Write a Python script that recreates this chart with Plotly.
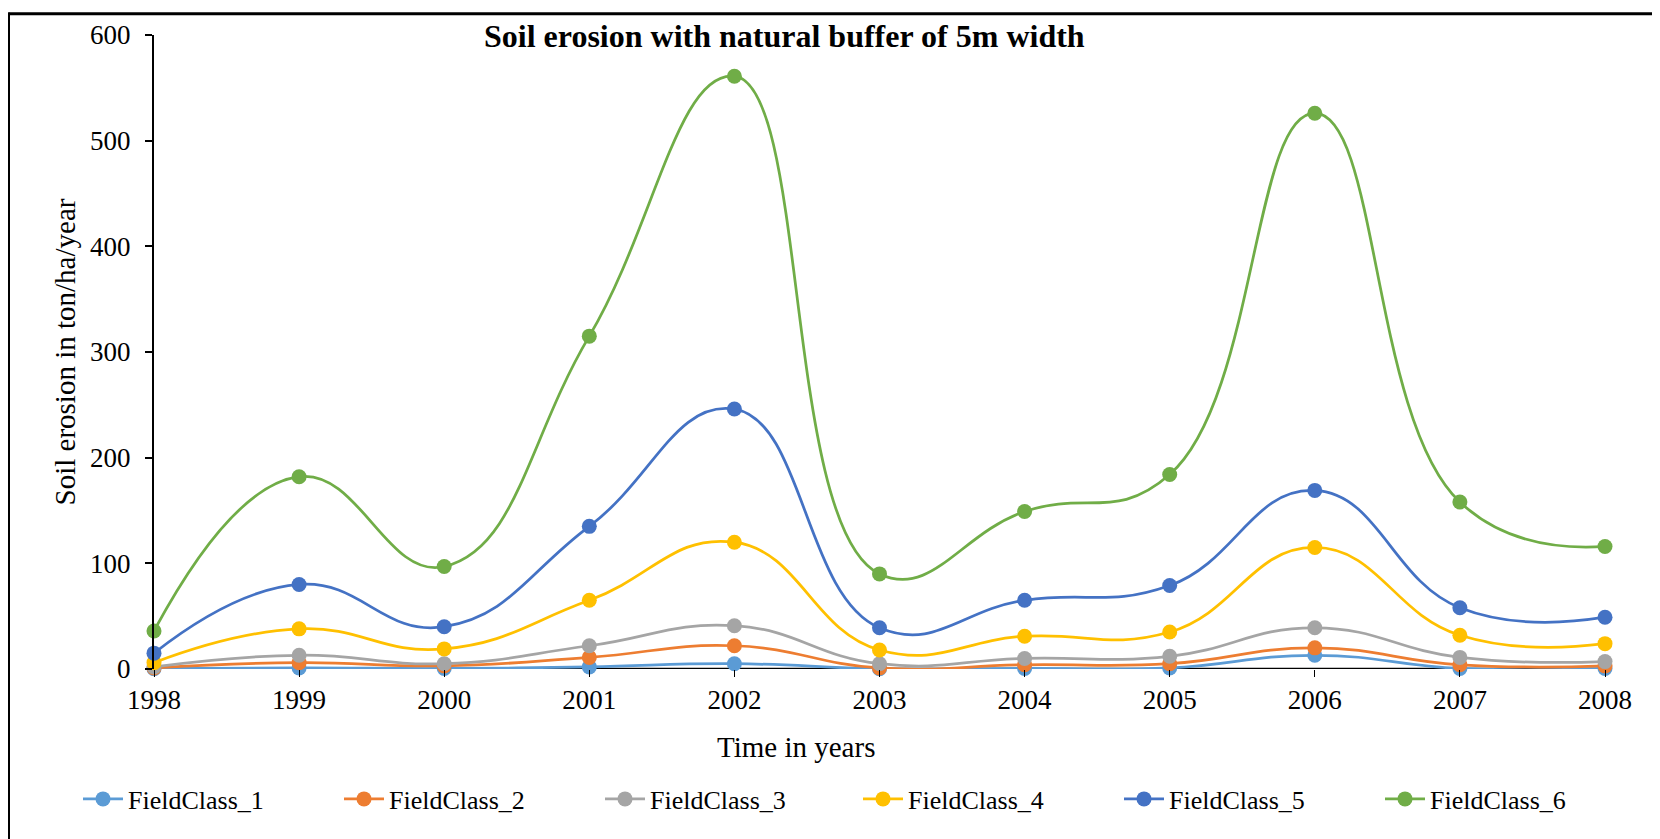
import plotly.graph_objects as go

years = [1998, 1999, 2000, 2001, 2002, 2003, 2004, 2005, 2006, 2007, 2008]
fc1 = [0.3, 1, 0.5, 2, 5, 0.2, 0.5, 1, 13, 0.5, 0.5]
fc2 = [1, 6, 3, 11, 22, 1, 4, 5, 20, 4, 3]
fc3 = [2, 13, 5, 22, 41, 5, 10, 12, 39, 11, 7]
fc4 = [6, 38, 19, 65, 120, 18, 31, 35, 115, 32, 24]
fc5 = [15, 80, 40, 135, 246, 39, 65, 79, 169, 58, 49]
fc6 = [36, 182, 97, 315, 561, 90, 149, 184, 526, 158, 116]

names = ["FieldClass_1", "FieldClass_2", "FieldClass_3", "FieldClass_4", "FieldClass_5", "FieldClass_6"]
series = [fc1, fc2, fc3, fc4, fc5, fc6]
colors = ["#5B9BD5", "#ED7D31", "#A5A5A5", "#FFC000", "#4472C4", "#70AD47"]

FONT = "Liberation Serif"

L, T, B = 146, 23, 178
W, H = 1660, 839
pw = W - L - 63
ph = H - T - B

fig = go.Figure()
for i, (n, s, c) in enumerate(zip(names, series, colors)):
    fig.add_trace(go.Scatter(
        x=years, y=s, name=n, mode="lines+markers",
        line=dict(color=c, width=2.75, shape="spline", smoothing=1.3),
        marker=dict(color=c, size=15),
        cliponaxis=False,
        legend="legend" if i < 3 else "legend2",
    ))

leg_common = dict(orientation="h", xref="container", yref="container",
                  y=1 - 791 / H, xanchor="left", yanchor="middle",
                  font=dict(family=FONT, size=26), entrywidth=206, entrywidthmode="pixels",
                  itemwidth=40, bgcolor="rgba(0,0,0,0)")

fig.update_layout(
    width=W, height=H,
    margin=dict(l=L, r=63, t=T, b=B),
    paper_bgcolor="white", plot_bgcolor="white",
    font=dict(family=FONT, size=27, color="black"),
    showlegend=True,
    legend=dict(x=70 / W, **leg_common),
    legend2=dict(x=(70 + 3 * 260) / W, **leg_common),
    xaxis=dict(range=[1998, 2008], tickmode="array", tickvals=years,
               ticktext=[str(y) for y in years], showgrid=False, zeroline=False,
               showline=False, ticks="outside", ticklen=7, tickcolor="black",
               tickfont=dict(family=FONT, size=27)),
    yaxis=dict(range=[0, 600], dtick=100, showgrid=False, zeroline=False,
               showline=True, linecolor="black", linewidth=2, ticks="outside",
               ticklen=7, tickcolor="black", tickwidth=2, ticklabelstandoff=9,
               tickfont=dict(family=FONT, size=27),
               title=dict(text="Soil erosion in ton/ha/year", font=dict(family=FONT, size=29),
                          standoff=6)),
    shapes=[
        dict(type="line", xref="x", yref="y", x0=1998, x1=2008, y0=0, y1=0,
             line=dict(color="black", width=2.5), layer="below"),
        dict(type="line", xref="paper", yref="paper",
             x0=(1.5 - L) / pw, x1=1.3, y0=(ph + T - 1.5) / ph, y1=(ph + T - 1.5) / ph,
             line=dict(color="black", width=3)),
        dict(type="line", xref="paper", yref="paper",
             x0=(1 - L) / pw, x1=(1 - L) / pw, y0=-0.5, y1=(ph + T) / ph,
             line=dict(color="black", width=2)),
    ],
    annotations=[
        dict(text="<b>Soil erosion with natural buffer of 5m width</b>", xref="paper", yref="paper",
             x=(776 - L) / pw, y=(ph + T - 24) / ph, xanchor="center", yanchor="middle",
             showarrow=False, font=dict(family=FONT, size=32)),
        dict(text="Time in years", xref="paper", yref="paper",
             x=(788 - L) / pw, y=(ph + T - 739) / ph, xanchor="center", yanchor="middle",
             showarrow=False, font=dict(family=FONT, size=29)),
    ],
)

fig.write_html("out.html")
